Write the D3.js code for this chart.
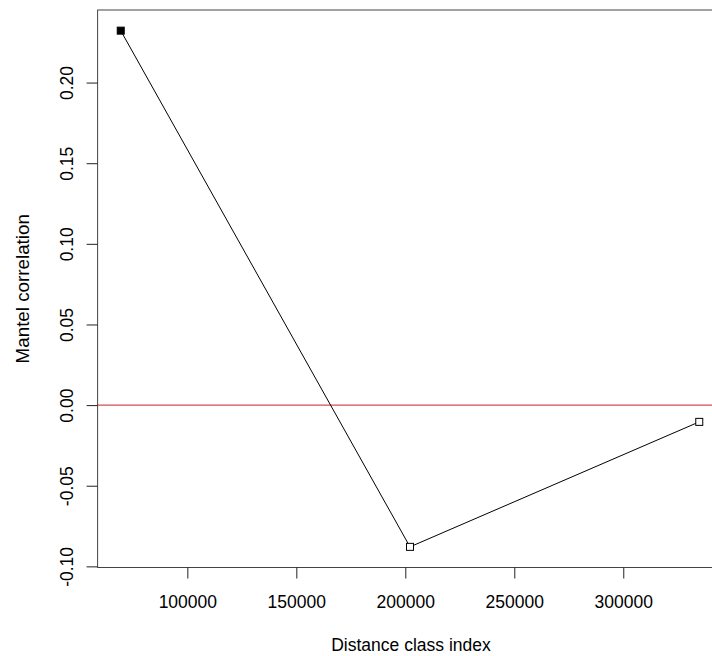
<!DOCTYPE html>
<html>
<head>
<meta charset="utf-8">
<script src="https://cdn.jsdelivr.net/npm/d3@7"></script>
<style>
  html, body { margin: 0; padding: 0; background: #fff; }
  svg { display: block; font-family: "Liberation Sans", Arial, sans-serif; }
</style>
</head>
<body>
<div id="viz"></div>
<script>
// distance class index (x) and Mantel correlation (y)
const distClass = [69450, 202150, 334860];
const mantelR = [0.2322, -0.0879, -0.0104];
const significant = [true, false, false];
const xTicks = [100000, 150000, 200000, 250000, 300000];
const yTicks = [-0.10, -0.05, 0.00, 0.05, 0.10, 0.15, 0.20];

const width = 712, height = 656;
const margin = { left: 97.6, top: 10, bottom: 88.5 };
// plot region runs past the right edge of the picture
const plotRight = 722.4;

const svg = d3.select("#viz").append("svg")
  .attr("width", width)
  .attr("height", height);

// R style: extend data range by 4% each side
function padded(ext) {
  const d = (ext[1] - ext[0]) * 0.04;
  return [ext[0] - d, ext[1] + d];
}

const x = d3.scaleLinear()
  .domain(padded(d3.extent(distClass)))
  .range([margin.left, plotRight]);

const y = d3.scaleLinear()
  .domain(padded(d3.extent(mantelR)))
  .range([height - margin.bottom, margin.top]);

const bottom = height - margin.bottom;

// plot box
svg.append("rect")
  .attr("x", margin.left)
  .attr("y", margin.top)
  .attr("width", plotRight - margin.left)
  .attr("height", bottom - margin.top)
  .attr("fill", "none")
  .attr("stroke", "#444")
  .attr("stroke-width", 1);

// x axis
const xAxis = svg.append("g")
  .attr("transform", `translate(0,${bottom})`)
  .call(d3.axisBottom(x).tickValues(xTicks).tickFormat(d => String(d)).tickSize(11));
xAxis.select(".domain").remove();
xAxis.selectAll("line").attr("stroke", "#222");
xAxis.selectAll("text")
  .attr("y", 40.5)
  .attr("dy", 0)
  .attr("fill", "#000")
  .style("font-size", "17.5px")
  .style("font-family", "'Liberation Sans', Arial, sans-serif");

// y axis
const yAxis = svg.append("g")
  .attr("transform", `translate(${margin.left},0)`)
  .call(d3.axisLeft(y).tickValues(yTicks).tickFormat(d => d.toFixed(2)).tickSize(11));
yAxis.select(".domain").remove();
yAxis.selectAll("line").attr("stroke", "#222");
yAxis.selectAll("text")
  .attr("x", 0)
  .attr("dy", 0)
  .attr("text-anchor", "middle")
  .attr("transform", "translate(-24.6,0) rotate(-90)")
  .attr("fill", "#000")
  .style("font-size", "17.5px")
  .style("font-family", "'Liberation Sans', Arial, sans-serif");

// axis titles
svg.append("text")
  .attr("x", 411)
  .attr("y", 650.7)
  .attr("text-anchor", "middle")
  .style("font-size", "17.5px")
  .text("Distance class index");

svg.append("text")
  .attr("transform", `translate(29,${(margin.top + bottom) / 2}) rotate(-90)`)
  .attr("text-anchor", "middle")
  .style("font-size", "18.8px")
  .text("Mantel correlation");

// zero reference line
svg.append("line")
  .attr("x1", margin.left)
  .attr("x2", plotRight)
  .attr("y1", y(0))
  .attr("y2", y(0))
  .attr("stroke", "#cc2222")
  .attr("stroke-width", 1);

// correlogram line
const pts = distClass.map((d, i) => ({ x: d, r: mantelR[i], sig: significant[i] }));

svg.append("path")
  .datum(pts)
  .attr("fill", "none")
  .attr("stroke", "#000")
  .attr("stroke-width", 1)
  .attr("d", d3.line().x(d => x(d.x)).y(d => y(d.r)));

const s = 7;
svg.append("g")
  .selectAll("rect")
  .data(pts)
  .enter().append("rect")
  .attr("x", d => x(d.x) - s / 2)
  .attr("y", d => y(d.r) - s / 2)
  .attr("width", s)
  .attr("height", s)
  .attr("fill", d => d.sig ? "#000" : "#fff")
  .attr("stroke", "#000")
  .attr("stroke-width", 1);
</script>
</body>
</html>
